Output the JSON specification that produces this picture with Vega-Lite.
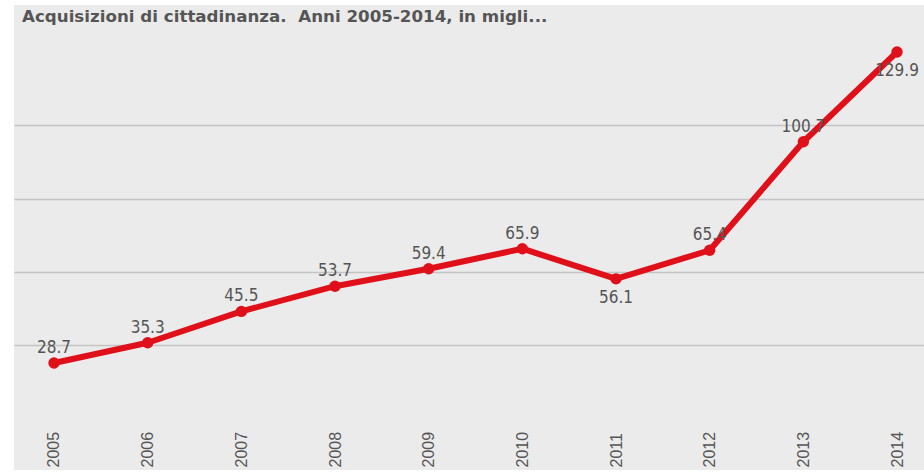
{
  "$schema": "https://vega.github.io/schema/vega-lite/v6.json",
  "width": 910,
  "height": 465,
  "autosize": "none",
  "padding": {"left": 14, "top": 5, "right": 0, "bottom": 6},
  "background": "#ffffff",
  "title": {
    "text": "Acquisizioni di cittadinanza.\u00a0 Anni 2005-2014, in migli...",
    "anchor": "start",
    "frame": "group",
    "offset": -21,
    "dx": 8,
    "font": "DejaVu Sans",
    "fontSize": 16.7,
    "fontWeight": "bold",
    "color": "#555555"
  },
  "config": {
    "view": {"fill": "#ebebeb", "stroke": null},
    "font": "Liberation Sans"
  },
  "data": {
    "values": [
      {"anno": 2005, "valore": 28.7},
      {"anno": 2006, "valore": 35.3},
      {"anno": 2007, "valore": 45.5},
      {"anno": 2008, "valore": 53.7},
      {"anno": 2009, "valore": 59.4},
      {"anno": 2010, "valore": 65.9},
      {"anno": 2011, "valore": 56.1},
      {"anno": 2012, "valore": 65.4},
      {"anno": 2013, "valore": 100.7},
      {"anno": 2014, "valore": 129.9}
    ]
  },
  "encoding": {
    "x": {
      "field": "anno",
      "type": "quantitative",
      "scale": {"domain": [2004.573, 2014.288], "nice": false, "zero": false},
      "axis": {
        "values": [2005, 2006, 2007, 2008, 2009, 2010, 2011, 2012, 2013, 2014],
        "format": "d",
        "title": null,
        "grid": false,
        "domain": false,
        "ticks": false,
        "labelAngle": -90,
        "labelAlign": "left",
        "labelBaseline": "middle",
        "labelPadding": 0,
        "offset": -3,
        "labelFont": "Liberation Sans",
        "labelFontSize": 16,
        "labelColor": "#555555"
      }
    },
    "y": {
      "field": "valore",
      "type": "quantitative",
      "scale": {"domain": [-6.1, 145.2], "nice": false, "zero": false},
      "axis": {
        "values": [34.6, 58.3, 82.1, 106.1],
        "title": null,
        "labels": false,
        "ticks": false,
        "domain": false,
        "grid": true,
        "gridColor": "#c4c4c4",
        "gridWidth": 1.5
      }
    }
  },
  "layer": [
    {
      "mark": {"type": "line", "color": "#e0101a", "strokeWidth": 6, "strokeJoin": "round"}
    },
    {
      "mark": {"type": "point", "filled": true, "color": "#e0101a", "opacity": 1, "size": 130}
    },
    {
      "transform": [{"filter": "datum.anno != 2011 && datum.anno != 2014"}],
      "mark": {"type": "text", "baseline": "alphabetic", "dy": -10, "font": "DejaVu Sans Condensed", "fontSize": 17, "color": "#555555"},
      "encoding": {"text": {"field": "valore", "type": "quantitative", "format": ".1f"}}
    },
    {
      "transform": [{"filter": "datum.anno == 2011 || datum.anno == 2014"}],
      "mark": {"type": "text", "baseline": "top", "dy": 11, "font": "DejaVu Sans Condensed", "fontSize": 17, "color": "#555555"},
      "encoding": {"text": {"field": "valore", "type": "quantitative", "format": ".1f"}}
    }
  ]
}
